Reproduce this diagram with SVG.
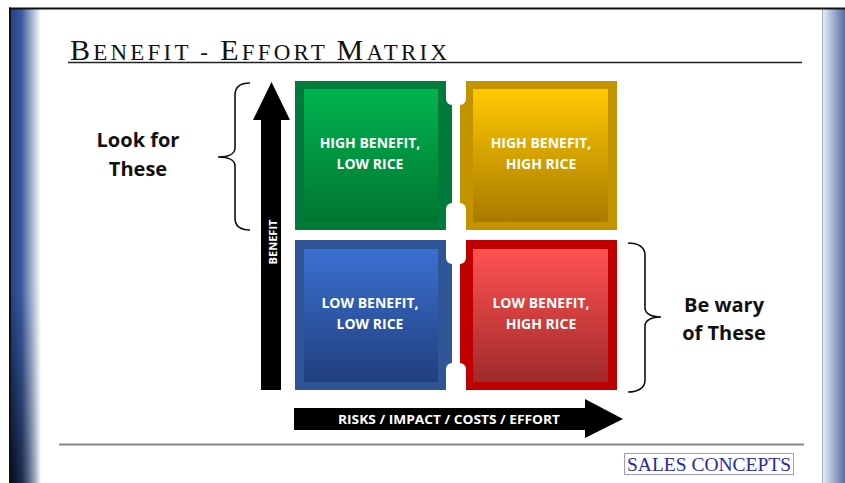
<svg xmlns="http://www.w3.org/2000/svg" width="845" height="483" viewBox="0 0 845 483">
  <defs>
    <style>
      .qt { font-family: "Open Sans", "Liberation Sans", sans-serif; font-weight: bold; font-size: 14px; fill: #ffffff; text-anchor: middle; }
      .side { font-family: "Open Sans", "Liberation Sans", sans-serif; font-weight: bold; font-size: 20px; fill: #111111; text-anchor: middle; }
      .axis { font-family: "Open Sans", "Liberation Sans", sans-serif; font-weight: bold; fill: #ffffff; text-anchor: middle; }
      .brace { fill: none; stroke: #111111; stroke-width: 1.6; }
      .big { font-size: 30px; }
      .sm { font-size: 23px; }
    </style>
    <linearGradient id="gGreen" x1="0" y1="0" x2="0" y2="1">
      <stop offset="0" stop-color="#00b550"/>
      <stop offset="1" stop-color="#007530"/>
    </linearGradient>
    <linearGradient id="gYellow" x1="0" y1="0" x2="0" y2="1">
      <stop offset="0" stop-color="#ffc900"/>
      <stop offset="1" stop-color="#a87a00"/>
    </linearGradient>
    <linearGradient id="gBlue" x1="0" y1="0" x2="0" y2="1">
      <stop offset="0" stop-color="#3b70d2"/>
      <stop offset="1" stop-color="#213f7c"/>
    </linearGradient>
    <linearGradient id="gRed" x1="0" y1="0" x2="0" y2="1">
      <stop offset="0" stop-color="#ff5252"/>
      <stop offset="1" stop-color="#a02a2a"/>
    </linearGradient>
    <linearGradient id="gLeft" x1="0" y1="0" x2="1" y2="0">
      <stop offset="0" stop-color="#24418a"/>
      <stop offset="0.35" stop-color="#3a5a9e"/>
      <stop offset="1" stop-color="#ffffff"/>
    </linearGradient>
    <linearGradient id="gLeftDark" x1="0" y1="0" x2="0" y2="1">
      <stop offset="0" stop-color="#000000" stop-opacity="0"/>
      <stop offset="0.6" stop-color="#000000" stop-opacity="0"/>
      <stop offset="1" stop-color="#000000" stop-opacity="0.8"/>
    </linearGradient>
    <linearGradient id="gLeftMask" x1="0" y1="0" x2="1" y2="0">
      <stop offset="0" stop-color="#ffffff"/>
      <stop offset="1" stop-color="#000000"/>
    </linearGradient>
    <mask id="mLeft" maskUnits="userSpaceOnUse" x="0" y="0" width="845" height="483">
      <rect x="11" y="9" width="30" height="474" fill="url(#gLeftMask)"/>
    </mask>
    <linearGradient id="gRight" x1="0" y1="0" x2="1" y2="0">
      <stop offset="0" stop-color="#eef1f8"/>
      <stop offset="1" stop-color="#566ca6"/>
    </linearGradient>
  </defs>

  <rect x="0" y="0" width="845" height="483" fill="#ffffff"/>

  <g id="frame">
    <rect x="11" y="9" width="30" height="474" fill="url(#gLeft)"/>
    <rect x="11" y="9" width="30" height="474" fill="url(#gLeftDark)" mask="url(#mLeft)"/>
    <rect x="822" y="9" width="23" height="474" fill="url(#gRight)"/>
    <rect x="822" y="9" width="1" height="474" fill="#9fb0d6"/>
    <rect x="9" y="7.5" width="836" height="2" fill="#111111"/>
    <rect x="9" y="7.5" width="2" height="475.5" fill="#111111"/>
  </g>

  <g id="title">
    <text x="70" y="60" font-family="'Liberation Serif', serif" fill="#111111" textLength="377" lengthAdjust="spacing"><tspan class="big">B</tspan><tspan class="sm">ENEFIT - </tspan><tspan class="big">E</tspan><tspan class="sm">FFORT </tspan><tspan class="big">M</tspan><tspan class="sm">ATRIX</tspan></text>
    <line x1="68" y1="62.5" x2="802" y2="62.5" stroke="#222222" stroke-width="1.6"/>
  </g>

  <g id="q-high-benefit-low-rice">
    <path d="M295,81 H446 V99 A6,6 0 0 0 452,105 V203 A6,6 0 0 0 446,209 V230 H295 Z" fill="#007b3a"/>
    <rect x="304" y="89" width="134" height="133" fill="url(#gGreen)"/>
    <text class="qt" x="370" y="148">HIGH BENEFIT,</text>
    <text class="qt" x="370" y="169">LOW RICE</text>
  </g>

  <g id="q-high-benefit-high-rice">
    <path d="M466,81 H617 V230 H466 V209 A6,6 0 0 0 460,203 V105 A6,6 0 0 0 466,99 Z" fill="#c49300"/>
    <rect x="473" y="89" width="135" height="133" fill="url(#gYellow)"/>
    <text class="qt" x="541" y="148">HIGH BENEFIT,</text>
    <text class="qt" x="541" y="169">HIGH RICE</text>
  </g>

  <g id="q-low-benefit-low-rice">
    <path d="M295,240 H446 V258 A6,6 0 0 0 452,264 V363 A6,6 0 0 0 446,369 V390 H295 Z" fill="#2f5597"/>
    <rect x="304" y="249" width="134" height="133" fill="url(#gBlue)"/>
    <text class="qt" x="370" y="308">LOW BENEFIT,</text>
    <text class="qt" x="370" y="329">LOW RICE</text>
  </g>

  <g id="q-low-benefit-high-rice">
    <path d="M466,240 H617 V390 H466 V369 A6,6 0 0 0 460,363 V264 A6,6 0 0 0 466,258 Z" fill="#c00000"/>
    <rect x="473" y="249" width="135" height="133" fill="url(#gRed)"/>
    <text class="qt" x="541" y="308">LOW BENEFIT,</text>
    <text class="qt" x="541" y="329">HIGH RICE</text>
  </g>

  <g id="connectors">
    <g id="axis-benefit">
      <path d="M261,390 V120 H253 L271.5,82 L290,120 H281 V390 Z" fill="#000000"/>
      <text class="axis" font-size="11" transform="translate(272.5,242) rotate(-90)" x="0" y="4" textLength="45" lengthAdjust="spacingAndGlyphs">BENEFIT</text>
    </g>
    <g id="axis-effort">
      <path d="M294,408 H585 V399 L623,419 L585,438 V430 H294 Z" fill="#000000"/>
      <text class="axis" font-size="13" x="449" y="423.5" textLength="222" lengthAdjust="spacingAndGlyphs">RISKS / IMPACT / COSTS / EFFORT</text>
    </g>
  </g>

  <g id="look-for-these">
    <path class="brace" d="M250,83 C240,83 235,87 235,95 V148 C235,154 228,157 218,157 C228,157 235,160 235,166 V218 C235,226 240,230 250,230"/>
    <text class="side" x="138" y="147">Look for</text>
    <text class="side" x="138" y="176">These</text>
  </g>

  <g id="be-wary-of-these">
    <path class="brace" d="M628,243 C638,243 645,247 645,255 V308 C645,314 652,317 661,317 C652,317 645,320 645,326 V380 C645,388 638,392 628,392"/>
    <text class="side" x="724" y="312">Be wary</text>
    <text class="side" x="724" y="340">of These</text>
  </g>

  <g id="footer">
    <line x1="59" y1="444.5" x2="804" y2="444.5" stroke="#888888" stroke-width="2"/>
    <rect x="624.5" y="453.5" width="169" height="21" fill="#ffffff" stroke="#9a9ae0" stroke-width="1"/>
    <text x="709" y="471" font-family="'Liberation Serif', serif" font-size="18" fill="#2a2aa0" text-anchor="middle" textLength="164" lengthAdjust="spacingAndGlyphs">SALES CONCEPTS</text>
  </g>
</svg>
